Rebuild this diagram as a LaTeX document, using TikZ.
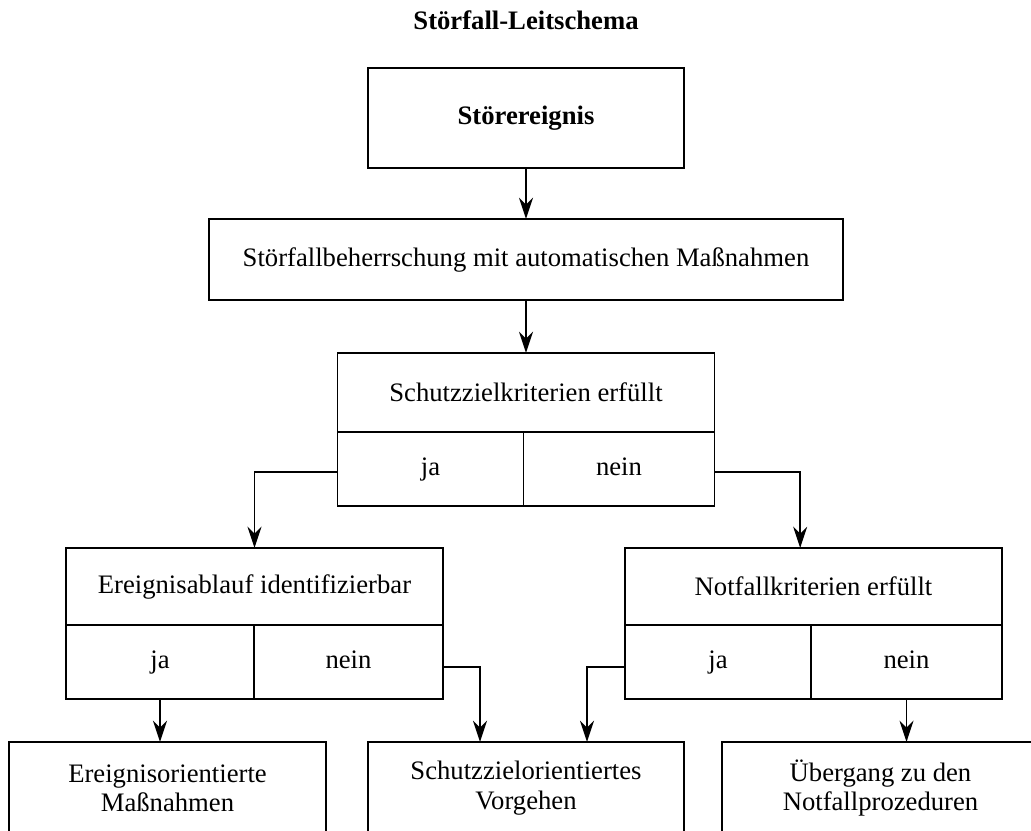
\documentclass[tikz,border=0pt]{standalone}
\usepackage{fontspec}
\setmainfont{Liberation Serif}
\usetikzlibrary{positioning,calc,arrows.meta}

\tikzset{
  box/.style={draw,rectangle,inner sep=0pt,outer sep=0pt,align=center},
  cell/.style={box,minimum height=55.5pt,text height=14pt,text depth=4.5pt},
  result/.style={box,minimum width=237.5pt,minimum height=69pt},
}

\begin{document}
\begin{tikzpicture}[x=0.75pt,y=-0.75pt,line width=1.3pt,
  >={Stealth[length=16pt,width=10.5pt]},
  every node/.style={font=\fontsize{20pt}{22pt}\selectfont}]
\useasboundingbox (0,0) rectangle (1031,831);
\clip (0,0) rectangle (1031,831);

\node[anchor=base] (title) at (526,30) {\textbf{Störfall-Leitschema}};

\node[box,minimum width=237pt,minimum height=75pt] (event) at (526,118) {\textbf{Störereignis}};
\node[box,minimum width=475.5pt,minimum height=60.75pt,below=38.25pt of event] (auto) {Störfallbeherrschung mit automatischen Maßnahmen};

% Schutzziele
\node[box,minimum width=282.75pt,minimum height=59.25pt,below=39.75pt of auto] (crit) {Schutzzielkriterien erfüllt};
\node[cell,minimum width=139.5pt,below right=0pt of crit.south west] (crit-ja) {ja};
\node[cell,minimum width=143.25pt,right=0pt of crit-ja] (crit-nein) {nein};

% Ereignisablauf
\node[box,minimum width=282.75pt,minimum height=57.75pt] (ident) at (254.5,586.5) {Ereignisablauf identifizierbar};
\node[cell,minimum width=141pt,below right=0pt of ident.south west] (ident-ja) {ja};
\node[cell,minimum width=141.75pt,right=0pt of ident-ja] (ident-nein) {nein};

% Notfall
\node[box,minimum width=282.75pt,minimum height=57.75pt] (notf) at (813.5,586.5) {Notfallkriterien erfüllt};
\node[cell,minimum width=139.5pt,below right=0pt of notf.south west] (notf-ja) {ja};
\node[cell,minimum width=143.25pt,right=0pt of notf-ja] (notf-nein) {nein};

\node[result] (res-event) at (167.5,788) {Ereignisorientierte\\Maßnahmen};
\node[result] (res-goal) at (526,788) {Schutzzielorientiertes\\Vorgehen};
\node[result] (res-emerg) at (880.5,788) {Übergang zu den\\Notfallprozeduren};

\draw[->] (event) -- (auto);
\draw[->] (auto) -- (crit);
\draw[->] ([yshift=-2.25pt]crit-ja.west) -| (ident.north);
\draw[->] ([yshift=-2.25pt]crit-nein.east) -| ([xshift=-10pt]notf.north);
\draw[->] (ident-ja.south) -- (ident-ja.south |- res-event.north);
\draw[->] ([yshift=-3.75pt]ident-nein.east) -| ([xshift=-34.5pt]res-goal.north);
\draw[->] ([yshift=-3.75pt]notf-ja.west) -| ([xshift=45.75pt]res-goal.north);
\draw[->] (notf-nein.south) -- (notf-nein.south |- res-emerg.north);
\end{tikzpicture}
\end{document}
